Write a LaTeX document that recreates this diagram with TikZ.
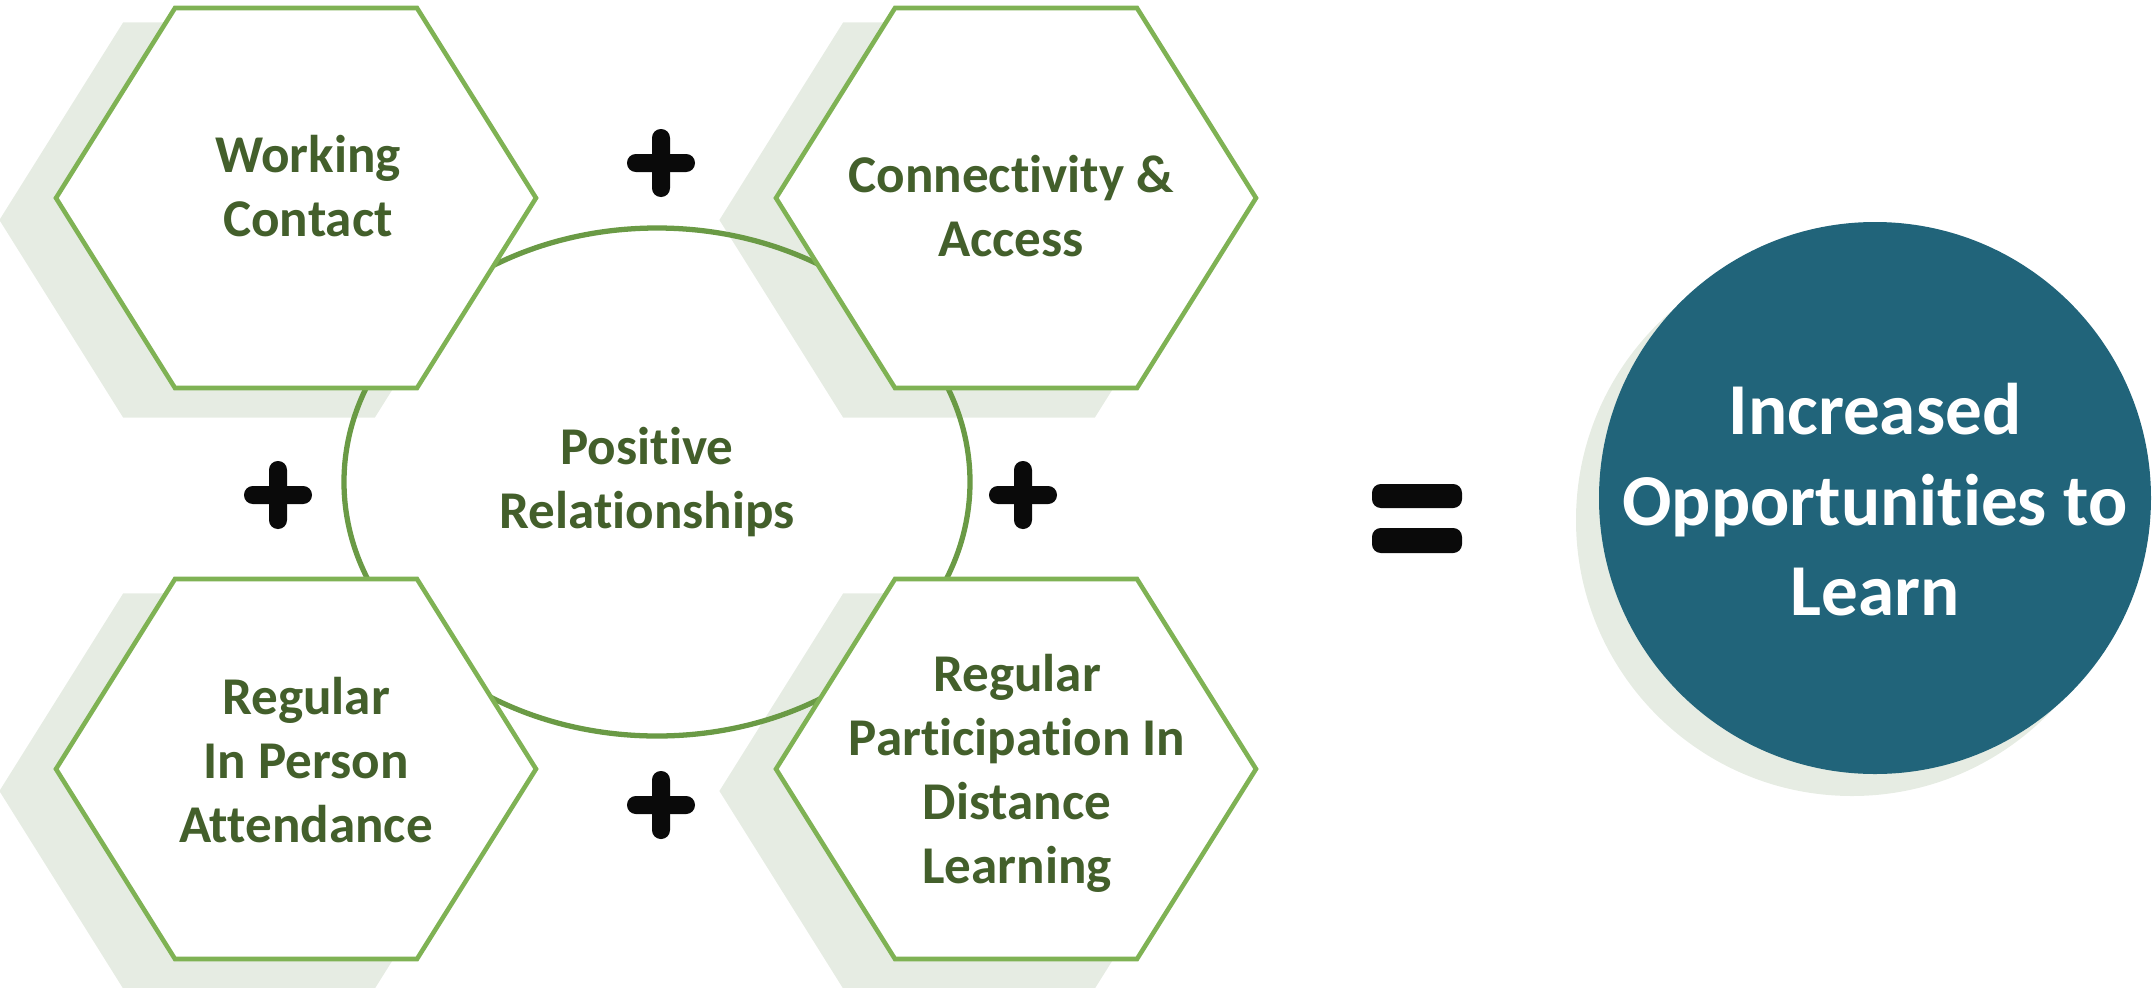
\documentclass[tikz,border=0pt]{standalone}
\usepackage{fontspec}
\setmainfont{Carlito}[Ligatures={NoCommon}]
\usepackage{xcolor}
\usepackage{tikz}

\definecolor{hexgreen}{HTML}{7FB254}
\definecolor{ringgreen}{HTML}{6A9A45}
\definecolor{txtgreen}{HTML}{435F2B}
\definecolor{shadegray}{HTML}{E6ECE3}
\definecolor{tealblue}{HTML}{21647A}
\definecolor{signblack}{HTML}{0A0A0A}

\begin{document}
\begin{tikzpicture}[x=0.01cm, y=-0.01cm,
  hexshade/.pic={\fill[shadegray] (-240,0) -- (-121,-190) -- (121,-190) -- (240,0) -- (121,190) -- (-121,190) -- cycle;},
  hexcell/.pic={\draw[hexgreen, line width=1.3pt, fill=white, line join=miter] (-240,0) -- (-121,-190) -- (121,-190) -- (240,0) -- (121,190) -- (-121,190) -- cycle;},
  plussign/.pic={\fill[signblack, rounded corners=2.5] (-9,-34) rectangle (9,34);
                 \fill[signblack, rounded corners=2.5] (-34,-9) rectangle (34,9);},
  hextext/.style={align=center, text=txtgreen, font=\fontsize{15.1pt}{18.2pt}\selectfont\bfseries, inner sep=0pt},
  goaltext/.style={align=center, text=white, font=\fontsize{20.8pt}{25.6pt}\selectfont\bfseries, inner sep=0pt}]
  \useasboundingbox (0,0) rectangle (2153,987);

  % Sombras
  \pic[scale=1.04] at (249,220) {hexshade};
  \pic[scale=1.04] at (249,791) {hexshade};
  \pic[scale=1.04] at (969,220) {hexshade};
  \pic[scale=1.04] at (969,791) {hexshade};
  \fill[shadegray] (1852,520) circle[radius=276];

  % Anillo central
  \draw[ringgreen, line width=1.5pt] (657,482) ellipse[x radius=313, y radius=254];

  % Hexagonos
  \pic at (296,198) {hexcell};
  \pic at (296,769) {hexcell};
  \pic at (1016,198) {hexcell};
  \pic at (1016,769) {hexcell};

  \node[hextext] (work) at (308,192) {\strut Working\\Contact\strut};
  \node[hextext] (attend) at (306,766) {\strut Regular\\In Person\\Attendance\strut};
  \node[hextext] (access) at (1011,212) {\strut Connectivity \&\\Access\strut};
  \node[hextext] (distance) at (1017,775) {\strut Regular\\Participation In\\Distance\\Learning\strut};
  \node[hextext] (rel) at (647,484) {\strut Positive\\Relationships\strut};

  % Signos
  \pic at (661,163) {plussign};
  \pic at (278,495) {plussign};
  \pic at (1023,495) {plussign};
  \pic at (661,805) {plussign};
  \fill[signblack, rounded corners=2.5] (1372,484) rectangle (1462,508);
  \fill[signblack, rounded corners=2.5] (1372,528) rectangle (1462,553);

  % Resultado
  \fill[tealblue] (1875,498) circle[radius=276];
  \node[goaltext] (goal) at (1875,507) {\strut Increased\\Opportunities to\\Learn\strut};
\end{tikzpicture}
\end{document}
